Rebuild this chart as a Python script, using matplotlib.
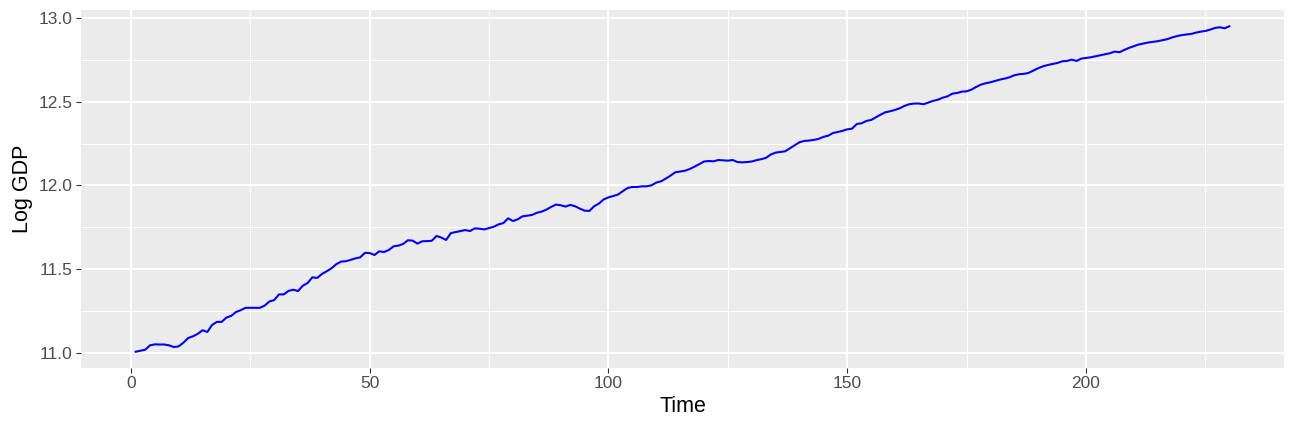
import matplotlib
matplotlib.use("Agg")
import matplotlib.pyplot as plt
import numpy as np

log_gdp = [
    11.008, 11.014, 11.020, 11.046, 11.052, 11.051, 11.051, 11.046, 11.036, 11.040,
    11.062, 11.090, 11.100, 11.115, 11.136, 11.126, 11.168, 11.186, 11.186, 11.212,
    11.222, 11.245, 11.256, 11.270, 11.270, 11.270, 11.270, 11.283, 11.308, 11.316,
    11.350, 11.350, 11.371, 11.378, 11.370, 11.402, 11.418, 11.452, 11.448, 11.472,
    11.488, 11.506, 11.530, 11.546, 11.548, 11.556, 11.565, 11.571, 11.598, 11.597,
    11.585, 11.607, 11.603, 11.615, 11.637, 11.641, 11.651, 11.673, 11.671, 11.653,
    11.667, 11.668, 11.670, 11.699, 11.689, 11.675, 11.716, 11.722, 11.728, 11.734,
    11.728, 11.744, 11.742, 11.738, 11.746, 11.754, 11.768, 11.776, 11.804, 11.788,
    11.798, 11.816, 11.820, 11.824, 11.837, 11.844, 11.856, 11.872, 11.886, 11.882,
    11.874, 11.884, 11.876, 11.862, 11.850, 11.848, 11.876, 11.892, 11.917, 11.929,
    11.937, 11.946, 11.966, 11.985, 11.991, 11.991, 11.995, 11.995, 12.001, 12.017,
    12.025, 12.041, 12.059, 12.079, 12.083, 12.088, 12.098, 12.112, 12.127, 12.143,
    12.146, 12.144, 12.152, 12.150, 12.148, 12.152, 12.140, 12.138, 12.140, 12.143,
    12.151, 12.157, 12.165, 12.185, 12.196, 12.200, 12.204, 12.222, 12.240, 12.258,
    12.266, 12.268, 12.272, 12.278, 12.290, 12.297, 12.313, 12.319, 12.326, 12.335,
    12.339, 12.367, 12.371, 12.385, 12.391, 12.407, 12.423, 12.437, 12.443, 12.451,
    12.461, 12.475, 12.485, 12.489, 12.489, 12.485, 12.495, 12.505, 12.512, 12.524,
    12.532, 12.548, 12.552, 12.560, 12.562, 12.572, 12.588, 12.602, 12.610, 12.616,
    12.624, 12.632, 12.638, 12.646, 12.658, 12.664, 12.666, 12.672, 12.686, 12.700,
    12.711, 12.719, 12.725, 12.731, 12.741, 12.743, 12.751, 12.743, 12.757, 12.761,
    12.765, 12.771, 12.777, 12.783, 12.789, 12.799, 12.795, 12.809, 12.821, 12.831,
    12.841, 12.847, 12.853, 12.857, 12.861, 12.867, 12.873, 12.883, 12.891, 12.897,
    12.901, 12.904, 12.912, 12.918, 12.922, 12.930, 12.940, 12.944, 12.938, 12.950,
]
time = list(range(1, len(log_gdp) + 1))

x_ticks = [0, 50, 100, 150, 200]
x_minor = [25, 75, 125, 175, 225]
y_ticks = [11.0, 11.5, 12.0, 12.5, 13.0]
y_minor = [11.25, 11.75, 12.25, 12.75]

plt.rcParams['font.family'] = ['Liberation Sans', 'DejaVu Sans']

fig = plt.figure(figsize=(12.96, 4.32), dpi=100)
ax = fig.add_axes([81 / 1296, 1 - 368 / 432, (1284 - 81) / 1296, (368 - 10) / 432])
ax.set_facecolor('#EBEBEB')

xr = max(time) - min(time)
ax.set_xlim(min(time) - 0.05 * xr, max(time) + 0.05 * xr)
yr = max(log_gdp) - min(log_gdp)
ax.set_ylim(min(log_gdp) - 0.05 * yr, max(log_gdp) + 0.05 * yr)

ax.set_xticks(x_ticks)
ax.set_xticks(x_minor, minor=True)
ax.set_yticks(y_ticks)
ax.set_yticks(y_minor, minor=True)
ax.set_yticklabels([f"{v:.1f}" for v in y_ticks])

ax.grid(which='major', color='white', linewidth=1.45)
ax.grid(which='minor', color='white', linewidth=0.75)
ax.set_axisbelow(True)
for s in ax.spines.values():
    s.set_visible(False)

ax.tick_params(which='major', length=3.6, width=0.8, color='#333333',
               labelcolor='#4D4D4D', labelsize=12.5, pad=2.5)
ax.tick_params(which='minor', length=0)

ax.plot(time, log_gdp, color='blue', linewidth=1.5)

ax.set_xlabel('Time', fontsize=15.5, color='black', labelpad=3)
ax.set_ylabel('Log GDP', fontsize=15.5, color='black', labelpad=4)

fig.savefig('out.png', dpi=100, facecolor='white')
